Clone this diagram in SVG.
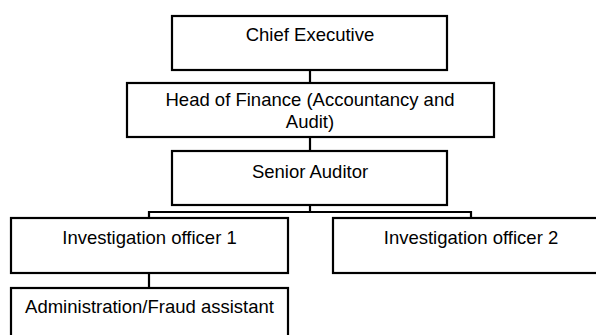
<svg xmlns="http://www.w3.org/2000/svg" width="596" height="335" viewBox="0 0 596 335">
  <style>
    .box { fill: #ffffff; stroke: #000000; stroke-width: 2.2; }
    .link { fill: none; stroke: #000000; stroke-width: 2.2; }
    .label { font-family: "Liberation Sans", Arial, sans-serif; font-size: 18.5px; fill: #000000; text-anchor: middle; }
  </style>
  <rect width="596" height="335" fill="#ffffff"/>

  <!-- reporting lines -->
  <g id="connectors">
    <path class="link" d="M310 70 V83"/>
    <path class="link" d="M310 137 V151"/>
    <path class="link" d="M310 205 V212"/>
    <path class="link" d="M149 218 V212 H471 V218"/>
    <path class="link" d="M149 273 V288"/>
  </g>

  <g id="chief-executive">
    <rect class="box" x="172" y="16" width="275" height="54"/>
    <text class="label" x="310" y="41">Chief Executive</text>
  </g>

  <g id="head-of-finance">
    <rect class="box" x="127" y="83" width="367" height="54"/>
    <text class="label" x="310" y="106">Head of Finance (Accountancy and</text>
    <text class="label" x="310" y="128">Audit)</text>
  </g>

  <g id="senior-auditor">
    <rect class="box" x="172" y="151" width="275" height="54"/>
    <text class="label" x="310" y="178">Senior Auditor</text>
  </g>

  <g id="investigation-officer-1">
    <rect class="box" x="11" y="218" width="277" height="55"/>
    <text class="label" x="149.5" y="244">Investigation officer 1</text>
  </g>

  <g id="investigation-officer-2">
    <rect class="box" x="333" y="218" width="277" height="55"/>
    <text class="label" x="471" y="244">Investigation officer 2</text>
  </g>

  <g id="admin-fraud-assistant">
    <rect class="box" x="11" y="288" width="277" height="55"/>
    <text class="label" x="149.5" y="313">Administration/Fraud assistant</text>
  </g>
</svg>
